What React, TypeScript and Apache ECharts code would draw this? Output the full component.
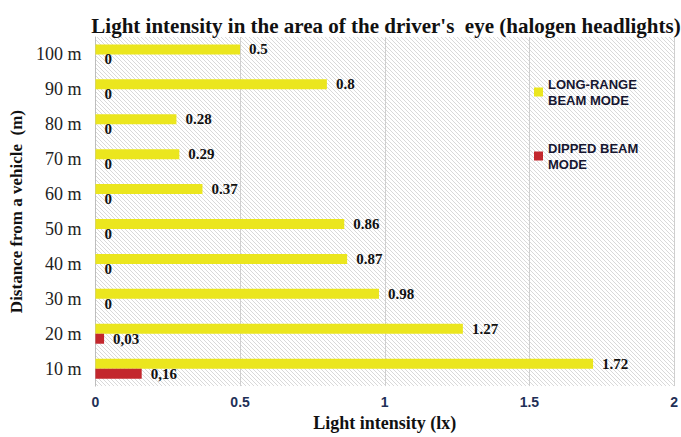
import React, { useEffect, useRef } from "react";
import * as echarts from "echarts";

const categories = ["10 m", "20 m", "30 m", "40 m", "50 m", "60 m", "70 m", "80 m", "90 m", "100 m"];
const longRange = [1.72, 1.27, 0.98, 0.87, 0.86, 0.37, 0.29, 0.28, 0.8, 0.5];
const dipped = [0.16, 0.03, 0, 0, 0, 0, 0, 0, 0, 0];
const xTicks = [0, 0.5, 1, 1.5, 2];

const LONG_NAME = "LONG-RANGE BEAM MODE";
const DIP_NAME = "DIPPED BEAM MODE";
const legendLines: Record<string, string> = {
  [LONG_NAME]: "LONG-RANGE\nBEAM MODE",
  [DIP_NAME]: "DIPPED BEAM\nMODE",
};

function makeHatch(): string {
  const c = document.createElement("canvas");
  c.width = 8;
  c.height = 8;
  const ctx = c.getContext("2d");
  if (!ctx) return "";
  ctx.fillStyle = "#ffffff";
  ctx.fillRect(0, 0, 8, 8);
  ctx.strokeStyle = "#d9d9d9";
  ctx.lineWidth = 1;
  for (let o = -8; o <= 8; o += 4) {
    ctx.beginPath();
    ctx.moveTo(o, 0);
    ctx.lineTo(o + 8, 8);
    ctx.stroke();
  }
  return c.toDataURL();
}

const serif = "'Liberation Serif', 'Times New Roman', serif";
const sans = "'Liberation Sans', Arial, sans-serif";

export default function App() {
  const ref = useRef<HTMLDivElement>(null);
  useEffect(() => {
    document.body.style.margin = "0";
    if (!ref.current) return;
    const chart = echarts.init(ref.current, undefined, { renderer: "svg" });
    const hatch = makeHatch();
    chart.setOption({
      animation: false,
      title: {
        text: "Light intensity in the area of the driver's  eye (halogen headlights)",
        left: 381,
        top: 10,
        textAlign: "center",
        textStyle: { fontFamily: serif, fontWeight: "bold", fontSize: 21, color: "#111" },
      },
      grid: {
        left: 92,
        right: 3,
        top: 37,
        bottom: 42,
        show: true,
        borderWidth: 0,
        backgroundColor: hatch ? { image: hatch, repeat: "repeat" } : "#fff",
      },
      legend: {
        orient: "vertical",
        left: 529,
        top: 63,
        itemWidth: 9,
        itemHeight: 9,
        itemGap: 16,
        icon: "rect",
        data: [LONG_NAME, DIP_NAME],
        formatter: (n: string) => legendLines[n] || n,
        textStyle: {
          fontFamily: sans,
          fontWeight: "bold",
          fontSize: 13,
          lineHeight: 16,
          color: "#161630",
          padding: [16, 0, 0, 0],
        },
      },
      xAxis: {
        type: "value",
        min: 0,
        max: 2,
        interval: 0.5,
        name: "Light intensity (lx)",
        nameLocation: "middle",
        nameGap: 26,
        nameTextStyle: { fontFamily: serif, fontWeight: "bold", fontSize: 18, color: "#111" },
        axisLine: { show: false },
        axisTick: { show: false },
        axisLabel: {
          margin: 9,
          fontFamily: sans,
          fontWeight: "bold",
          fontSize: 14,
          color: "#1f3057",
          formatter: (v: number) => (xTicks.includes(v) ? String(v) : ""),
        },
        splitLine: { show: true, lineStyle: { color: "#cfcfcf", width: 1 } },
      },
      yAxis: {
        type: "category",
        data: categories,
        name: "Distance from a vehicle  (m)",
        nameLocation: "middle",
        nameRotate: 90,
        nameGap: 67,
        nameTextStyle: { fontFamily: serif, fontWeight: "bold", fontSize: 17, color: "#111" },
        axisLine: { show: true, lineStyle: { color: "#bdbdbd", width: 1 } },
        axisTick: { show: false },
        axisLabel: { margin: 14, fontFamily: serif, fontSize: 18, color: "#222" },
      },
      series: [
        {
          name: LONG_NAME,
          type: "bar",
          data: longRange,
          barWidth: 10,
          barGap: "0%",
          itemStyle: { color: "#ebe61e" },
          label: {
            show: true,
            position: "right",
            distance: 9,
            fontFamily: serif,
            fontWeight: "bold",
            fontSize: 15,
            color: "#111",
          },
        },
        {
          name: DIP_NAME,
          type: "bar",
          data: dipped,
          barWidth: 10,
          barGap: "0%",
          itemStyle: { color: "#c3272d" },
          label: {
            show: true,
            position: "right",
            distance: 9,
            fontFamily: serif,
            fontWeight: "bold",
            fontSize: 15,
            color: "#111",
            formatter: (p: any) => String(p.value).replace(".", ","),
          },
        },
      ],
    });
    return () => chart.dispose();
  }, []);
  return (
    <div
      ref={ref}
      style={{ width: 681, height: 437, position: "absolute", left: 0, top: 0 }}
    />
  );
}
